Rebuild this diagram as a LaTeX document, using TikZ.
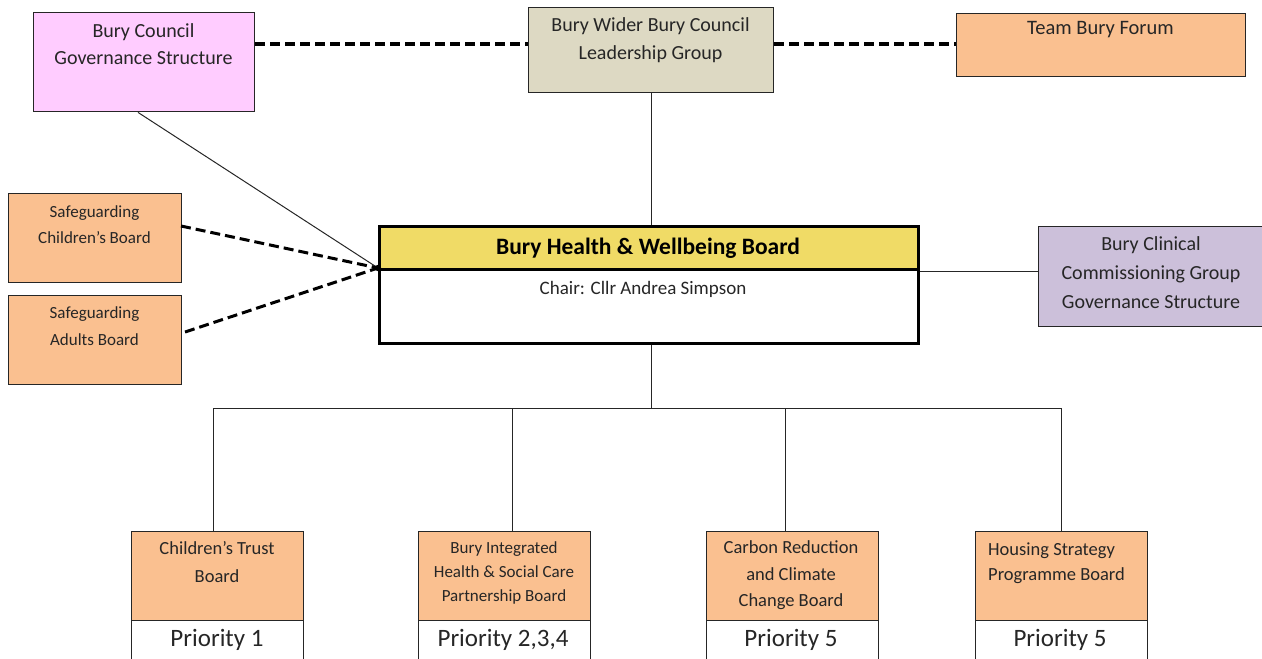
\documentclass[tikz,border=0pt]{standalone}
\usepackage{fontspec}
\setmainfont{Carlito}
\begin{document}
\begin{tikzpicture}[x=1pt,y=-1pt,
  box/.style={draw=black!85, line width=1.4pt, inner sep=0pt, anchor=north west},
  txt/.style={align=center, inner sep=0pt, text=black!85},
  dashline/.style={line width=3.5pt, dash pattern=on 10pt off 5pt},
  conn/.style={line width=1pt, black!85}]
\useasboundingbox (0,0) rectangle (1262,659);
\definecolor{cpink}{HTML}{FFCCFF}
\definecolor{ctan}{HTML}{DDD9C3}
\definecolor{corange}{HTML}{FAC090}
\definecolor{cyellow}{HTML}{F0DB66}
\definecolor{cpurple}{HTML}{CCC0DA}
\newcommand{\bx}[6]{\node[box, fill=#6, minimum width=#4-#2, minimum height=#5-#3] (#1) at (#2,#3) {};}
% top row
\bx{council}{33}{12}{254}{111}{cpink}
\node[txt, font=\fontsize{20}{27}\selectfont] (councilT) at (143.5,44.5) {Bury Council\\Governance Structure};
\bx{wider}{528}{7}{773}{92}{ctan}
\node[txt, font=\fontsize{20}{28}\selectfont] (widerT) at (650.5,40) {Bury Wider Bury Council\\Leadership Group};
\bx{forum}{956}{13}{1245}{76}{corange}
\node[txt, font=\fontsize{20.5}{27}\selectfont] (forumT) at (1100.5,30) {Team Bury Forum};
% left
\bx{sgc}{8}{193}{181}{282}{corange}
\node[txt, font=\fontsize{17}{26}\selectfont] (sgcT) at (94.5,224.5) {Safeguarding\\Children’s Board};
\bx{sga}{8}{295}{181}{384}{corange}
\node[txt, font=\fontsize{17}{27}\selectfont] (sgaT) at (94.5,326.5) {Safeguarding\\Adults Board};
% centre
\node[draw=black, line width=3pt, fill=white, inner sep=0pt, anchor=north west, minimum width=539, minimum height=117] (hwb) at (378,225) {};
\node[draw=black, line width=3pt, fill=cyellow, inner sep=0pt, anchor=north west, minimum width=539, minimum height=43] (hwbH) at (378,225) {};
\node[txt, font=\bfseries\fontsize{23.5}{25}\selectfont, text=black] (hwbT) at (648,248) {Bury Health \& Wellbeing Board};
\node[txt, font=\fontsize{19}{20}\selectfont] (chair) at (643,289) {Chair: Cllr Andrea Simpson};
% right
\bx{ccg}{1038}{226}{1264}{326}{cpurple}
\node[txt, font=\fontsize{20}{29}\selectfont] (ccgT) at (1151,273) {Bury Clinical\\Commissioning Group\\Governance Structure};
% bottom row
\newcommand{\bottombox}[5]{%
  \bx{#1}{#2}{531}{#2+172}{620}{corange}
  \node[box, fill=white, minimum width=172, minimum height=42] (#1P) at (#2,620) {};
  \node[txt, font=\fontsize{25}{26}\selectfont] (#1PT) at (#2+86+#5,640) {#4};
}
\bottombox{ctb}{131}{}{Priority 1}{0}
\node[txt, font=\fontsize{18.5}{28}\selectfont] (ctbT) at (217,562) {Children’s Trust\\Board};
\bottombox{bih}{418}{}{Priority 2,3,4}{-1}
\node[txt, font=\fontsize{17}{24}\selectfont] (bihT) at (504,573) {Bury Integrated\\Health \& Social Care\\Partnership Board};
\bottombox{crc}{706}{}{Priority 5}{-1}
\node[txt, font=\fontsize{18.5}{26.5}\selectfont] (crcT) at (791,575.5) {Carbon Reduction\\and Climate\\Change Board};
\bottombox{hsp}{975}{}{Priority 5}{-1}
\node[txt, font=\fontsize{18.5}{25}\selectfont, align=left, anchor=west] (hspT) at (988,563.5) {Housing Strategy\\Programme Board};
% connectors
\coordinate (dot) at (378,268);
\draw[dashline] (council.east |- 0,44) -- (wider.west |- 0,44);
\draw[dashline] (wider.east |- 0,44) -- (forum.west |- 0,44);
\draw[conn] (council.south -| 138,0) -- (dot);
\draw[dashline, line width=3pt] (181,226) -- (dot);
\draw[dashline, line width=3pt] (185,332) -- (dot);
\fill (dot) circle (3.2);
\draw[conn] (wider.south) -- (hwbH.north -| wider.south);
\draw[conn] (hwbH.south east) -- (ccg.west |- hwbH.south east);
\coordinate (bus) at (651,408);
\coordinate (b1) at (213,408);
\coordinate (b2) at (512,408);
\coordinate (b3) at (785,408);
\coordinate (b4) at (1061,408);
\draw[conn] (hwb.south -| bus) -- (bus);
\draw[conn] (b1) -- (b4);
\draw[conn] (b1) -- (ctb.north -| b1);
\draw[conn] (b2) -- (bih.north -| b2);
\draw[conn] (b3) -- (crc.north -| b3);
\draw[conn] (b4) -- (hsp.north -| b4);
\end{tikzpicture}
\end{document}
